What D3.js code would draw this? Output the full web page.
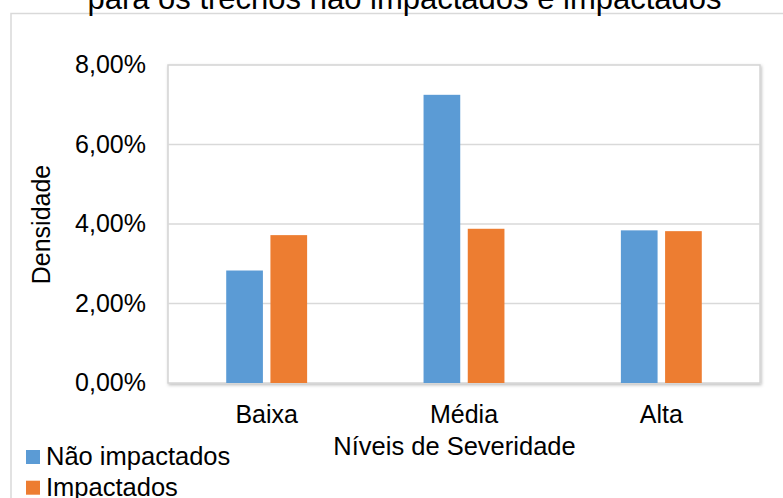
<!DOCTYPE html>
<html>
<head>
<meta charset="utf-8">
<script src="https://cdn.jsdelivr.net/npm/d3@7"></script>
<style>
  html, body { margin: 0; padding: 0; background: #ffffff; }
  svg { display: block; }
  text { font-family: "Liberation Sans", Arial, sans-serif; fill: #000; }
</style>
</head>
<body>
<svg id="chart" width="783" height="498"></svg>
<script>
// Density of defects per severity level, split by section type
const categories = ["Baixa", "Média", "Alta"];
const seriesNames = ["Não impactados", "Impactados"];
const naoImpactados = [0.0283, 0.0725, 0.0384];
const impactados = [0.0372, 0.0388, 0.0382];
const yTicks = [0, 0.02, 0.04, 0.06, 0.08];
const colors = ["#5B9BD5", "#ED7D31"];

const titleText = "para os trechos não impactados e impactados";
const yTitle = "Densidade";
const xTitle = "Níveis de Severidade";

const series = [naoImpactados, impactados];

const ptBR = d3.formatLocale({ decimal: ",", thousands: ".", grouping: [3], currency: ["R$", ""] });
const pct = ptBR.format(".2%");

const W = 783, H = 498;
const plot = { left: 168, right: 760, top: 65, bottom: 383 };

const svg = d3.select("#chart");

const defs = svg.append("defs");
const shadow = defs.append("filter").attr("id", "plotShadow")
  .attr("x", "-5%").attr("y", "-5%").attr("width", "110%").attr("height", "110%");
shadow.append("feDropShadow").attr("dx", 1).attr("dy", 1.5)
  .attr("stdDeviation", 1.5).attr("flood-color", "#000").attr("flood-opacity", 0.25);

// chart area border
svg.append("rect")
  .attr("x", 11).attr("y", 13.5).attr("width", 820).attr("height", 520)
  .attr("fill", "#fff").attr("stroke", "#d9d9d9").attr("stroke-width", 1.5);

// title (partially above the visible area)
svg.append("text")
  .attr("x", 404.5).attr("y", 8.5)
  .attr("text-anchor", "middle")
  .style("font-size", "31px")
  .text(titleText);

const x0 = d3.scaleBand().domain(categories).range([plot.left, plot.right]).padding(0);
const groupW = x0.bandwidth() * 0.41;
const x1 = d3.scaleBand().domain(seriesNames)
  .range([x0.bandwidth() / 2 - groupW / 2, x0.bandwidth() / 2 + groupW / 2])
  .paddingInner(0.17).paddingOuter(0);
const y = d3.scaleLinear().domain([0, 0.08]).range([plot.bottom, plot.top]);

// plot area frame with soft shadow
svg.append("rect")
  .attr("x", plot.left).attr("y", plot.top)
  .attr("width", plot.right - plot.left).attr("height", plot.bottom - plot.top)
  .attr("fill", "#fff").attr("stroke", "#d4d4d4").attr("stroke-width", 1.5)
  .attr("filter", "url(#plotShadow)");

// horizontal gridlines
svg.append("g").selectAll("line")
  .data(yTicks.filter(t => t > 0 && t < 0.08))
  .join("line")
  .attr("x1", plot.left).attr("x2", plot.right)
  .attr("y1", d => y(d)).attr("y2", d => y(d))
  .attr("stroke", "#d9d9d9").attr("stroke-width", 1.5);

// y tick labels
svg.append("g").selectAll("text")
  .data(yTicks)
  .join("text")
  .attr("x", 146).attr("y", d => y(d) + 8)
  .attr("text-anchor", "end")
  .style("font-size", "25px")
  .text(d => pct(d));

// bars
const groups = svg.append("g").selectAll("g")
  .data(categories)
  .join("g")
  .attr("transform", d => `translate(${x0(d)},0)`);

groups.selectAll("rect")
  .data((d, i) => seriesNames.map((s, j) => ({ s, j, v: series[j][i] })))
  .join("rect")
  .attr("x", d => x1(d.s))
  .attr("width", x1.bandwidth())
  .attr("y", d => y(d.v))
  .attr("height", d => y(0) - y(d.v))
  .attr("fill", d => colors[d.j]);

// category labels
svg.append("g").selectAll("text")
  .data(categories)
  .join("text")
  .attr("x", d => x0(d) + x0.bandwidth() / 2)
  .attr("y", 422.5)
  .attr("text-anchor", "middle")
  .style("font-size", "25px")
  .text(d => d);

// axis titles
svg.append("text")
  .attr("x", 454.5).attr("y", 455)
  .attr("text-anchor", "middle")
  .style("font-size", "25.5px")
  .text(xTitle);

svg.append("text")
  .attr("transform", "translate(50,224.5) rotate(-90)")
  .attr("text-anchor", "middle")
  .style("font-size", "25px")
  .text(yTitle);

// legend
const legend = svg.append("g").selectAll("g")
  .data(seriesNames)
  .join("g")
  .attr("transform", (d, i) => `translate(26,${450 + i * 30.7})`);
legend.append("rect")
  .attr("width", 14).attr("height", 14)
  .attr("fill", (d, i) => colors[i]);
legend.append("text")
  .attr("x", 20).attr("y", 15)
  .style("font-size", "25.5px")
  .text(d => d);
</script>
</body>
</html>
